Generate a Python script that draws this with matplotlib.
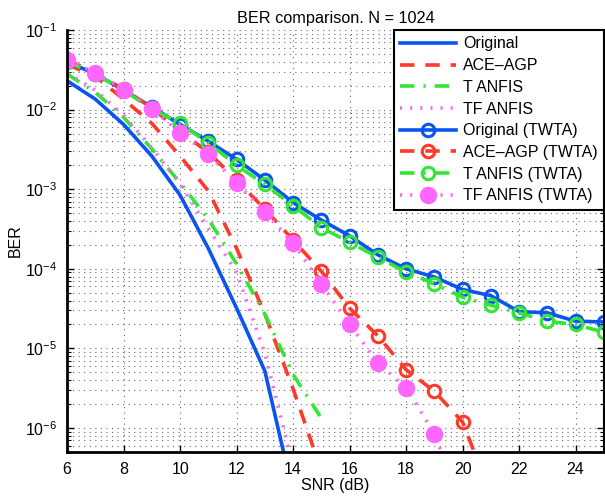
import numpy as np
import matplotlib
matplotlib.use('Agg')
import matplotlib.pyplot as plt
from matplotlib.ticker import LogLocator, NullFormatter

plt.rcParams['font.family'] = ['Liberation Sans', 'DejaVu Sans']
plt.rcParams['mathtext.default'] = 'regular'

# SNR axis (dB)
snr = np.arange(6, 26)

# curves without nonlinearity (no markers)
snr_orig = [6, 7, 8, 9, 10, 11, 12, 13, 14]
ber_orig = [2.3e-2, 1.35e-2, 6.5e-3, 2.6e-3, 8.4e-4, 1.8e-4, 3.2e-5, 5.2e-6, 1.5e-7]

snr_ace = [6, 7, 8, 9, 10, 11, 12, 13, 14, 15]
ber_ace = [3.7e-2, 2.6e-2, 1.35e-2, 6.7e-3, 2.6e-3, 9.5e-4, 1.8e-4, 2.7e-5, 3.1e-6, 2.9e-7]

snr_t = [6, 7, 8, 9, 10, 11, 12, 13, 14, 15]
ber_t = [2.8e-2, 1.65e-2, 8.0e-3, 3.2e-3, 1.2e-3, 4.2e-4, 1.15e-4, 2.7e-5, 4.7e-6, 1.33e-6]

snr_tf = [6, 7, 8, 9, 10, 11, 12, 13, 14]
ber_tf = [2.9e-2, 1.75e-2, 8.5e-3, 3.3e-3, 1.15e-3, 3.2e-4, 9e-5, 8.6e-6, 3.3e-7]

# TWTA curves (markers at every dB)
ber_orig_twta = [4.0e-2, 2.8e-2, 1.75e-2, 1.08e-2, 6.5e-3, 4.0e-3, 2.37e-3, 1.3e-3,
                 6.8e-4, 4.1e-4, 2.6e-4, 1.5e-4, 1.0e-4, 7.9e-5, 5.5e-5, 4.6e-5,
                 2.9e-5, 2.8e-5, 2.2e-5, 2.15e-5]
ber_t_twta = [4.0e-2, 2.8e-2, 1.75e-2, 1.02e-2, 6.7e-3, 3.8e-3, 2.0e-3, 1.15e-3,
              6.2e-4, 3.3e-4, 2.15e-4, 1.4e-4, 9.1e-5, 6.5e-5, 4.4e-5, 3.5e-5,
              2.8e-5, 2.2e-5, 2.0e-5, 1.6e-5]
snr_ace_twta = np.arange(6, 22)
ber_ace_twta = [4.2e-2, 2.9e-2, 1.8e-2, 1.05e-2, 5.3e-3, 2.9e-3, 1.3e-3, 5.6e-4,
                2.3e-4, 9.3e-5, 3.2e-5, 1.44e-5, 5.4e-6, 2.9e-6, 1.19e-6, 1.45e-7]
snr_tf_twta = np.arange(6, 21)
ber_tf_twta = [4.2e-2, 2.9e-2, 1.78e-2, 1.03e-2, 5.1e-3, 2.75e-3, 1.19e-3, 5.1e-4,
               2.1e-4, 6.5e-5, 2.0e-5, 6.6e-6, 3.2e-6, 8.5e-7, 1.0e-7]

blue = '#0a55f0'
red = '#ff3a2a'
green = '#33e633'
pink = '#ff66ff'
lw = 2.6

fig = plt.figure(figsize=(6.05, 5.0), dpi=100)
ax = fig.add_axes([0.111, 0.096, 0.887, 0.844])

ax.plot(snr_orig, ber_orig, '-', color=blue, lw=lw, label='Original')
ax.plot(snr_ace, ber_ace, '--', color=red, lw=lw, dashes=(4, 3), label='ACE\u2013AGP')
ax.plot(snr_t, ber_t, '-.', color=green, lw=lw, dashes=(4, 2.5, 0.6, 2.5), label='T ANFIS')
ax.plot(snr_tf, ber_tf, ':', color=pink, lw=lw, dashes=(0.6, 2.2), label='TF ANFIS')

ax.plot(snr, ber_orig_twta, '-', color=blue, lw=lw, marker='o', ms=9, mfc='none',
        mew=2.2, label='Original (TWTA)')
ax.plot(snr_ace_twta, ber_ace_twta, '--', color=red, lw=lw, dashes=(4, 3), marker='o', ms=9,
        mfc='none', mew=2.2, label='ACE\u2013AGP (TWTA)')
ax.plot(snr, ber_t_twta, '-.', color=green, lw=lw, dashes=(4, 2.5, 0.6, 2.5), marker='o', ms=9,
        mfc='none', mew=2.2, label='T ANFIS (TWTA)')
ax.plot(snr_tf_twta, ber_tf_twta, ':', color=pink, lw=lw, dashes=(0.6, 2.2), marker='o', ms=11.5,
        mfc=pink, mec=pink, label='TF ANFIS (TWTA)')

ax.set_yscale('log')
ax.set_xlim(6, 25)
ax.set_ylim(5e-7, 1e-1)
ax.set_xticks(np.arange(6, 25, 2))
ax.yaxis.set_major_locator(LogLocator(base=10, numticks=10))
ax.yaxis.set_minor_locator(LogLocator(base=10, subs=np.arange(2, 10), numticks=20))
ax.yaxis.set_minor_formatter(NullFormatter())

grid_kw = dict(linestyle=(0, (1, 4)), color='#444444', lw=0.8, alpha=0.8)
ax.grid(True, which='major', axis='x', **grid_kw)
ax.grid(True, which='both', axis='y', **grid_kw)

ax.tick_params(which='both', direction='in', right=True, top=False, labelsize=11.5)
ax.tick_params(which='major', length=5, width=1, pad=7)
ax.tick_params(which='minor', length=3, width=0.8)
for s in ['left', 'bottom']:
    ax.spines[s].set_linewidth(2)
ax.spines['top'].set_visible(False)
ax.spines['right'].set_linewidth(1.5)

ax.set_title('BER comparison. N = 1024', fontsize=11.7, pad=5)
ax.set_xlabel('SNR (dB)', fontsize=11.5, labelpad=1)
ax.set_ylabel('BER', fontsize=11.5, labelpad=2)

leg = ax.legend(loc='upper right', fontsize=11.5, handlelength=3.5, labelspacing=0.42,
                borderaxespad=0, fancybox=False, framealpha=1, edgecolor='black',
                borderpad=0.4, handletextpad=0.4)
leg.get_frame().set_linewidth(1.5)

fig.savefig('out.png', dpi=100)
